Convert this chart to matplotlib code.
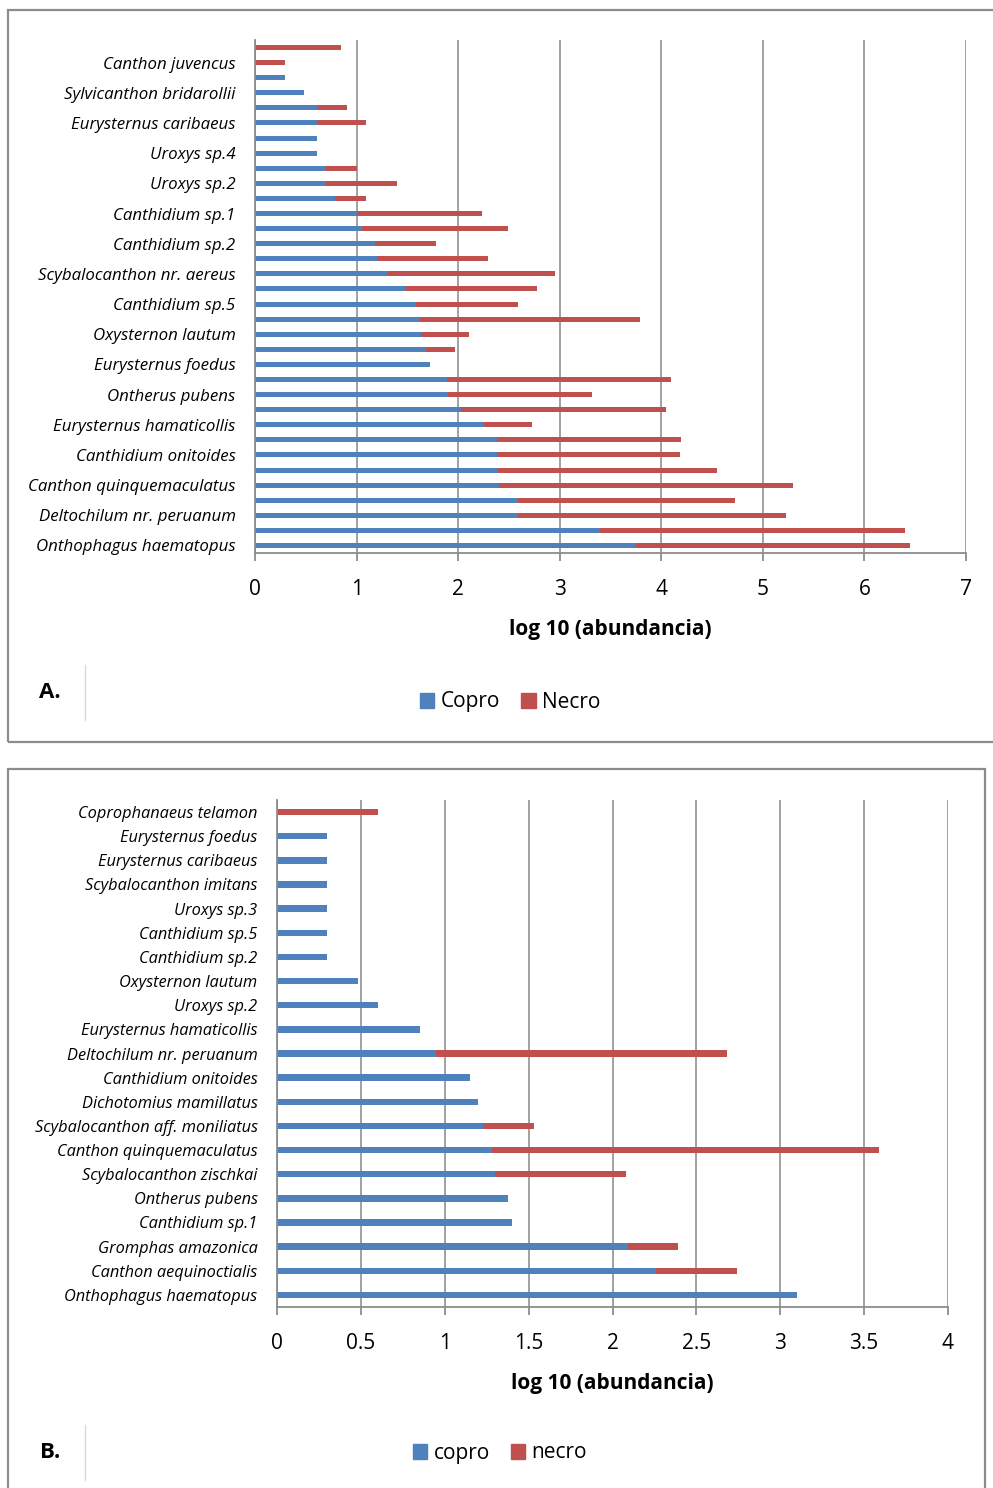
"""
plot.py - log10 abundance of dung beetles by bait type (copro / necro).
"""

import matplotlib.pyplot as plt
from matplotlib.patches import Rectangle, Patch
from matplotlib.lines import Line2D

plt.rcParams['font.family'] = ['Open Sans', 'DejaVu Sans']

W, H = 993, 1488
blue = '#4F81BD'
red = '#C0504D'
grid_col = '#9a9a9a'
frame_col = '#8c8c8c'

#%% Panel A data (bottom to top, 34 bars, only every other one labelled)
a_labels = ['Onthophagus haematopus', 'Deltochilum nr. peruanum',
            'Canthon quinquemaculatus', 'Canthidium onitoides',
            'Eurysternus hamaticollis', 'Ontherus pubens',
            'Eurysternus foedus', 'Oxysternon lautum', 'Canthidium sp.5',
            'Scybalocanthon nr. aereus', 'Canthidium sp.2', 'Canthidium sp.1',
            'Uroxys sp.2', 'Uroxys sp.4', 'Eurysternus caribaeus',
            'Sylvicanthon bridarollii', 'Canthon juvencus']

a_copro = [3.75, 3.40, 2.59, 2.59, 2.40, 2.39, 2.38, 2.38, 2.25, 2.03,
           1.90, 1.89, 1.72, 1.68, 1.63, 1.62, 1.59, 1.48, 1.31, 1.20,
           1.18, 1.05, 1.00, 0.79, 0.70, 0.70, 0.61, 0.61, 0.61, 0.61,
           0.48, 0.30, 0.00, 0.00]
a_necro = [2.70, 3.00, 2.64, 2.14, 2.90, 2.16, 1.80, 1.81, 0.48, 2.02,
           1.42, 2.21, 0.00, 0.29, 0.48, 2.17, 1.00, 1.30, 1.64, 1.09,
           0.60, 1.44, 1.23, 0.30, 0.70, 0.30, 0.00, 0.00, 0.48, 0.30,
           0.00, 0.00, 0.30, 0.85]

#%% Panel B data (bottom to top, 21 bars)
b_labels = ['Onthophagus haematopus', 'Canthon aequinoctialis',
            'Gromphas amazonica', 'Canthidium sp.1', 'Ontherus pubens',
            'Scybalocanthon zischkai', 'Canthon quinquemaculatus',
            'Scybalocanthon aff. moniliatus', 'Dichotomius mamillatus',
            'Canthidium onitoides', 'Deltochilum nr. peruanum',
            'Eurysternus hamaticollis', 'Uroxys sp.2', 'Oxysternon lautum',
            'Canthidium sp.2', 'Canthidium sp.5', 'Uroxys sp.3',
            'Scybalocanthon imitans', 'Eurysternus caribaeus',
            'Eurysternus foedus', 'Coprophanaeus telamon']

b_copro = [3.10, 2.26, 2.09, 1.40, 1.38, 1.30, 1.28, 1.23, 1.20, 1.15,
           0.95, 0.85, 0.60, 0.48, 0.30, 0.30, 0.30, 0.30, 0.30, 0.30, 0.00]
b_necro = [0.00, 0.48, 0.30, 0.00, 0.00, 0.78, 2.31, 0.30, 0.00, 0.00,
           1.73, 0.00, 0.00, 0.00, 0.00, 0.00, 0.00, 0.00, 0.00, 0.00, 0.60]


def fx(px):
    return px / W


def fy(py):
    return 1 - py / H


def style_axes(ax, xmax, xticks, xticklabels, label_pad, label_size):
    ax.set_xlim(0, xmax)
    ax.set_xticks(xticks)
    ax.set_xticklabels(xticklabels)
    ax.grid(axis='x', color=grid_col, lw=1.3)
    ax.set_axisbelow(True)
    for s in ['top', 'right']:
        ax.spines[s].set_visible(False)
    for s in ['left', 'bottom']:
        ax.spines[s].set_color(frame_col)
        ax.spines[s].set_linewidth(1.3)
    ax.tick_params(axis='x', direction='out', length=6, width=1.3,
                   color=frame_col, labelsize=15, pad=13)
    ax.tick_params(axis='y', length=0, pad=label_pad)
    for t in ax.get_yticklabels():
        t.set_fontstyle('italic')
        t.set_fontsize(label_size)
    ax.set_xlabel('log 10 (abundancia)', fontsize=15, fontweight='bold')
    ax.xaxis.set_label_coords(0.5, -0.15)
    ax.xaxis.label.set_va('center')


fig = plt.figure(figsize=(W / 100, H / 100), dpi=100)

# panel frames
fig.patches.append(Rectangle((fx(8), fy(742)), fx(995 - 8), (742 - 10) / H,
                             transform=fig.transFigure, fill=False,
                             ec=frame_col, lw=1.6))
fig.patches.append(Rectangle((fx(8), fy(1495)), fx(985 - 8), (1495 - 769) / H,
                             transform=fig.transFigure, fill=False,
                             ec=frame_col, lw=1.6))

#%% Panel A
axA = fig.add_axes([fx(255), fy(553), fx(966 - 255), (553 - 40) / H])
ya = list(range(len(a_copro)))
axA.barh(ya, a_copro, height=0.33, color=blue, label='Copro')
axA.barh(ya, a_necro, left=a_copro, height=0.33, color=red, label='Necro')
axA.set_ylim(-0.5, len(a_copro) - 0.5)
axA.set_yticks(ya[::2])
axA.set_yticklabels(a_labels)
style_axes(axA, 7, range(8), [str(i) for i in range(8)], 14, 12.2)

#%% Panel B
axB = fig.add_axes([fx(277), fy(1307), fx(948 - 277), (1307 - 800) / H])
yb = list(range(len(b_copro)))
axB.barh(yb, b_copro, height=0.27, color=blue, label='copro')
axB.barh(yb, b_necro, left=b_copro, height=0.27, color=red, label='necro')
axB.set_ylim(-0.5, len(b_copro) - 0.5)
axB.set_yticks(yb)
axB.set_yticklabels(b_labels)
b_ticks = [i * 0.5 for i in range(9)]
style_axes(axB, 4, b_ticks, ['0', '0.5', '1', '1.5', '2', '2.5', '3', '3.5', '4'],
           14, 11.8)

#%% Legends, panel letters and separators
for ax, (cx, cy), letter, ly in [(axA, (510, 702), 'A.', (665, 720)),
                                  (axB, (500, 1453), 'B.', (1425, 1480))]:
    h, l = ax.get_legend_handles_labels()
    handles = [Patch(color=blue), Patch(color=red)]
    fig.legend(handles, l, loc='center', bbox_to_anchor=(fx(cx), fy(cy)),
               ncol=2, frameon=False, fontsize=15, handlelength=0.7,
               handleheight=0.7, handletextpad=0.3, columnspacing=1.0)
    fig.text(fx(50), fy((ly[0] + ly[1]) / 2), letter, fontsize=16,
             fontweight='bold', ha='center', va='center')
    fig.lines.append(Line2D([fx(85), fx(85)], [fy(ly[0]), fy(ly[1])],
                            transform=fig.transFigure, color='#d9d9d9', lw=1))

fig.savefig('out.png', dpi=100)
